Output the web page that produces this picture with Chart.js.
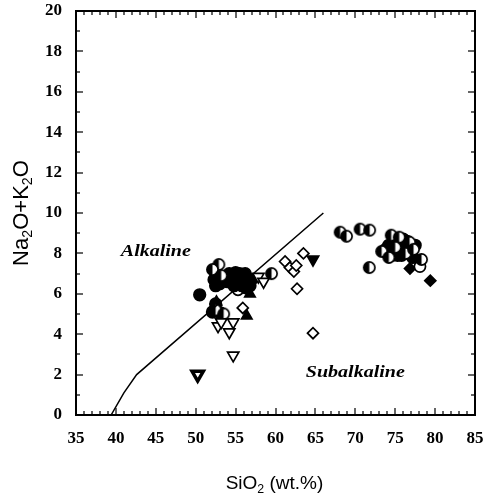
<!DOCTYPE html>
<html>
<head>
<meta charset="utf-8">
<script src="https://cdn.jsdelivr.net/npm/chart.js@4.4.0/dist/chart.umd.min.js"></script>
<style>
  html, body { margin: 0; padding: 0; background: #fff; }
  canvas { display: block; }
</style>
</head>
<body>
<canvas id="tas" width="488" height="494"></canvas>
<script>
// Boundary line between alkaline and subalkaline fields
const boundary = [[39.4, 0], [41, 1.1], [42.6, 2], [66, 10]];

// Sample points, [SiO2, Na2O+K2O]
const halfCircles = [[52.9, 7.45], [52.1, 7.2], [53.2, 6.9], [59.5, 7.0], [68.1, 9.05], [68.9, 8.85],
    [70.6, 9.2], [71.8, 9.15], [71.75, 7.3], [73.3, 8.1], [74.5, 8.9], [75.5, 8.8], [76.8, 8.55], [74.2, 7.8],
    [78.3, 7.7], [75.0, 8.3], [76.3, 8.0], [77.3, 8.2], [52.5, 5.2], [53.5, 5.0]];
const openCircles = [[55.3, 6.2], [78.1, 7.35]];
const filledCircles = [[50.5, 5.95], [52.3, 6.7], [52.5, 6.4], [53.0, 6.5], [54.5, 6.8], [55.0, 6.6], [55.5, 7.0],
    [56.0, 6.9], [56.5, 6.6], [55.8, 6.4], [54.8, 6.4], [56.2, 7.0], [57.0, 6.7], [54.2, 7.0], [52.1, 5.1],
    [52.5, 5.5], [53.1, 5.05], [55.2, 6.8], [55.6, 6.6], [56.3, 6.3], [54.0, 6.6], [53.6, 6.8], [56.8, 6.4],
    [55.0, 7.05], [74.5, 8.3], [75.0, 8.0], [75.8, 8.4], [76.2, 8.1], [74.8, 8.6], [76.0, 8.7], [75.3, 7.9],
    [77.0, 8.0], [73.8, 8.2], [75.5, 8.2], [76.6, 8.3], [74.2, 8.4], [77.2, 7.8], [75.8, 7.9], [74.0, 8.0],
    [75.2, 8.6], [76.5, 8.6], [77.5, 8.4], [74.6, 7.9]];
const openTriDown = [[52.8, 4.4], [54.2, 4.1], [54.7, 4.6], [54.7, 2.95], [57.85, 6.85], [58.5, 6.6], [53.2, 4.6]];
const boldTriDown = [[50.25, 2.0]];
const filledTriDown = [[64.7, 7.7]];
const filledTriUp = [[56.8, 6.0], [56.4, 4.9], [52.6, 5.6]];
const openDiamonds = [[61.2, 7.6], [61.8, 7.3], [62.3, 7.1], [62.6, 7.4], [63.5, 8.0], [62.7, 6.25], [64.7, 4.05], [55.9, 5.3]];
const filledDiamonds = [[76.85, 7.25], [79.4, 6.65]];

const xTicks = [35, 40, 45, 50, 55, 60, 65, 70, 75, 80, 85];
const yTicks = [0, 2, 4, 6, 8, 10, 12, 14, 16, 18, 20];

const toXY = arr => arr.map(p => ({ x: p[0], y: p[1] }));

// half filled circle marker (left half black)
function halfCircle() {
    const c = document.createElement('canvas');
    c.width = 15; c.height = 15;
    const g = c.getContext('2d');
    g.beginPath(); g.arc(7.5, 7.5, 5.6, 0, Math.PI * 2);
    g.fillStyle = '#fff'; g.fill();
    g.beginPath(); g.arc(7.5, 7.5, 5.6, Math.PI / 2, Math.PI * 1.5);
    g.fillStyle = '#000'; g.fill();
    g.beginPath(); g.arc(7.5, 7.5, 5.6, 0, Math.PI * 2);
    g.lineWidth = 1.7; g.strokeStyle = '#000'; g.stroke();
    return c;
}

function marks(data, style, fill, radius, bw) {
    return {
        type: 'scatter',
        data: toXY(data),
        pointStyle: style,
        pointRadius: radius,
        pointBackgroundColor: fill,
        pointBorderColor: '#000',
        pointBorderWidth: bw || 1.7
    };
}

// draw subscripted text, returns width
function subText(ctx, parts, x, y, size, measureOnly) {
    let w = 0;
    parts.forEach(p => {
        const sub = p[1];
        ctx.font = (sub ? size * 0.65 : size) + 'px "Liberation Sans", Arial, sans-serif';
        if (!measureOnly) ctx.fillText(p[0], x + w, y + (sub ? size * 0.28 : 0));
        w += ctx.measureText(p[0]).width;
    });
    return w;
}

const frame = {
    id: 'frame',
    afterDraw(chart) {
        const ctx = chart.ctx, a = chart.chartArea;
        const xs = chart.scales.x, ys = chart.scales.y;
        ctx.save();
        ctx.fillStyle = '#000';
        const L = Math.round(a.left), R = Math.round(a.right), T = Math.round(a.top), B = Math.round(a.bottom);
        // frame
        ctx.fillRect(L - 1, T - 1, R - L + 2, 2);
        ctx.fillRect(L - 1, B - 1, R - L + 2, 2);
        ctx.fillRect(L - 1, T - 1, 2, B - T + 2);
        ctx.fillRect(R - 1, T - 1, 2, B - T + 2);
        // inward ticks
        for (let v = 35; v <= 85; v++) {
            const px = Math.round(xs.getPixelForValue(v));
            const len = v % 5 === 0 ? 7 : 4;
            ctx.fillRect(px - 0.6, B - len, 1.2, len);
            ctx.fillRect(px - 0.6, T, 1.2, len);
        }
        for (let v = 0; v <= 20; v++) {
            const py = Math.round(ys.getPixelForValue(v));
            const len = v % 2 === 0 ? 7 : 4;
            ctx.fillRect(L, py - 0.6, len, 1.2);
            ctx.fillRect(R - len, py - 0.6, len, 1.2);
        }

        // field names (the scan is a little stretched sideways)
        ctx.font = 'italic bold 16px "Liberation Serif", "Times New Roman", serif';
        ctx.textAlign = 'center';
        ctx.textBaseline = 'middle';
        [['Alkaline', 45, 8.1], ['Subalkaline', 70, 2.1]].forEach(t => {
            ctx.save();
            ctx.translate(xs.getPixelForValue(t[1]), ys.getPixelForValue(t[2]));
            ctx.scale(1.25, 1);
            ctx.fillText(t[0], 0, 0);
            ctx.restore();
        });

        // axis titles with subscripts
        ctx.textAlign = 'left';
        ctx.textBaseline = 'middle';
        const xt = [['SiO', 0], ['2', 1], [' (wt.%)', 0]];
        const w1 = subText(ctx, xt, 0, 0, 19, true);
        subText(ctx, xt, (a.left + a.right) / 2 - w1 / 2 - 1, 484, 19);

        const yt = [['Na', 0], ['2', 1], ['O+K', 0], ['2', 1], ['O', 0]];
        ctx.translate(22, 213);
        ctx.rotate(-Math.PI / 2);
        const w2 = subText(ctx, yt, 0, 0, 22, true);
        subText(ctx, yt, -w2 / 2, 0, 22);
        ctx.restore();
    }
};

const tickFont = { family: '"Liberation Serif", "Times New Roman", serif', size: 17, weight: 'bold' };

new Chart(document.getElementById('tas'), {
    type: 'scatter',
    data: {
        datasets: [
            {
                type: 'line',
                data: toXY(boundary),
                borderColor: '#000',
                borderWidth: 1.5,
                pointRadius: 0,
                fill: false,
                tension: 0
            },
            marks(openDiamonds, 'rectRot', '#fff', 5.5),
            marks(openTriDown, 'triangle', '#fff', 6.5),
            marks(boldTriDown, 'triangle', '#fff', 6.5, 3.5),
            marks(halfCircles, halfCircle(), '#000', 6),
            marks(filledCircles, 'circle', '#000', 5.8),
            marks(openCircles, 'circle', '#fff', 5.6),
            marks(filledTriUp, 'triangle', '#000', 6),
            marks(filledTriDown, 'triangle', '#000', 6.5),
            marks(filledDiamonds, 'rectRot', '#000', 5.5)
        ].map((d, i) => {
            // point inverted triangles downward
            if (i === 2 || i === 3 || i === 8) d.pointRotation = 180;
            return d;
        })
    },
    options: {
        responsive: false,
        animation: false,
        layout: { padding: { top: 11, right: 13, left: 0, bottom: 0 } },
        plugins: { legend: { display: false }, tooltip: { enabled: false } },
        scales: {
            x: {
                type: 'linear', min: 35, max: 85,
                afterBuildTicks: s => { s.ticks = xTicks.map(v => ({ value: v })); },
                afterFit: s => { s.height = 79; s.paddingLeft = 0; s.paddingRight = 0; },
                grid: { display: false, drawTicks: false },
                border: { display: false },
                ticks: { color: '#000', font: tickFont, padding: 13, maxRotation: 0 }
            },
            y: {
                type: 'linear', min: 0, max: 20,
                afterBuildTicks: s => { s.ticks = yTicks.map(v => ({ value: v })); },
                afterFit: s => { s.width = 76; s.paddingTop = 0; s.paddingBottom = 0; },
                grid: { display: false, drawTicks: false },
                border: { display: false },
                ticks: { color: '#000', font: tickFont, padding: 14 }
            }
        }
    },
    plugins: [frame]
});
</script>
</body>
</html>
